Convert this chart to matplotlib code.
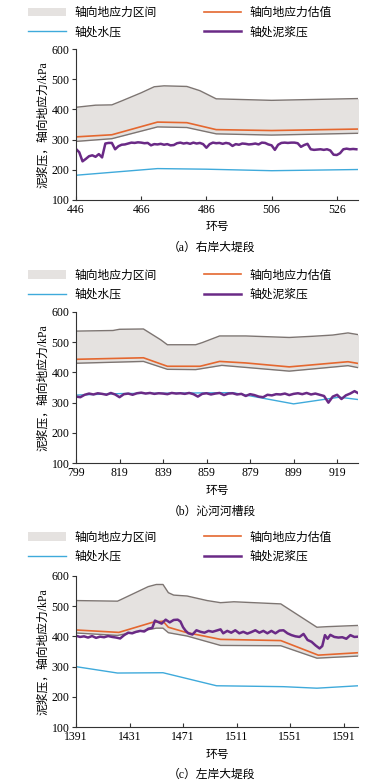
import numpy as np
import matplotlib
matplotlib.use("Agg")
import matplotlib.pyplot as plt

plt.rcParams['font.family'] = ['Liberation Serif', 'Noto Sans CJK SC', 'DejaVu Sans']
CJK = ['Noto Sans CJK SC', 'DejaVu Sans']

# ---- panel (a) right bank levee
a_upper_x = [446, 452, 457, 460, 466, 470, 473, 480, 484, 489, 506, 533]
a_upper_y = [407, 414, 415, 428, 455, 475, 478, 476, 462, 435, 430, 436]
a_lower_x = [446, 457, 471, 480, 489, 506, 533]
a_lower_y = [294, 303, 342, 340, 319, 315, 321]
a_est_x = [446, 457, 471, 480, 489, 506, 533]
a_est_y = [309, 316, 358, 356, 333, 330, 335]
a_water_x = [446, 471, 486, 506, 533]
a_water_y = [182, 204, 202, 197, 201]
a_slurry_x = list(range(446, 533))
a_slurry_y = [269, 258, 228, 236, 245, 248, 243, 252, 241, 287,
              289, 289, 268, 278, 283, 284, 287, 290, 289, 291,
              290, 288, 289, 281, 285, 284, 286, 283, 285, 281,
              282, 288, 290, 287, 289, 286, 290, 287, 289, 285,
              273, 285, 290, 288, 289, 286, 289, 287, 279, 285,
              283, 287, 286, 284, 285, 287, 284, 290, 289, 284,
              281, 266, 283, 289, 290, 289, 290, 290, 288, 276,
              282, 286, 268, 266, 267, 268, 266, 268, 264, 250,
              249, 255, 268, 270, 268, 269, 268]
a_ticks = [446, 466, 486, 506, 526]

# ---- panel (b) Qin river channel
b_upper_x = [799, 816, 819, 830, 838, 841, 854, 857, 865, 877, 897, 908, 917, 924, 929]
b_upper_y = [536, 538, 542, 543, 507, 491, 491, 498, 520, 520, 515, 519, 523, 530, 524]
b_lower_x = [799, 830, 841, 854, 866, 897, 924, 929]
b_lower_y = [430, 436, 410, 409, 423, 404, 422, 415]
b_est_x = [799, 830, 841, 856, 865, 877, 897, 924, 929]
b_est_y = [443, 448, 420, 420, 436, 431, 418, 435, 429]
b_water_x = [799, 820, 871, 899, 920, 929]
b_water_y = [325, 330, 333, 296, 318, 310]
b_slurry_x = list(range(799, 931, 2))
b_slurry_y = [320, 318, 326, 330, 327, 331, 329, 326, 332, 327,
              318, 328, 330, 326, 331, 333, 330, 332, 329, 331,
              330, 328, 332, 330, 331, 329, 332, 328, 320, 329,
              331, 327, 330, 332, 325, 330, 331, 327, 329, 322,
              328, 325, 320, 318, 326, 324, 328, 327, 330, 325,
              329, 331, 328, 332, 327, 330, 326, 322, 300, 320,
              326, 312, 324, 330, 338, 330]
b_ticks = [799, 819, 839, 859, 879, 899, 919]

# ---- panel (c) left bank levee
c_upper_x = [1391, 1422, 1424, 1445, 1451, 1456, 1460, 1464, 1474, 1489, 1499, 1509, 1544, 1571, 1579, 1602]
c_upper_y = [518, 516, 520, 564, 571, 571, 544, 536, 533, 518, 511, 514, 507, 430, 432, 436]
c_lower_x = [1391, 1422, 1451, 1456, 1460, 1474, 1499, 1544, 1571, 1602]
c_lower_y = [411, 403, 427, 427, 412, 401, 370, 369, 328, 335]
c_est_x = [1391, 1423, 1448, 1456, 1460, 1474, 1499, 1544, 1572, 1602]
c_est_y = [421, 413, 446, 450, 430, 412, 390, 386, 338, 346]
c_water_x = [1391, 1422, 1456, 1496, 1546, 1571, 1602]
c_water_y = [300, 279, 280, 237, 234, 229, 237]
c_slurry_x = [1391, 1394, 1397, 1400, 1403, 1406, 1409, 1412, 1415, 1418,
              1421, 1424, 1427, 1430, 1433, 1436, 1439, 1442, 1445, 1448,
              1450, 1452, 1455, 1458, 1461, 1464, 1467, 1469, 1471, 1473,
              1475, 1478, 1481, 1484, 1487, 1490, 1493, 1496, 1499, 1501,
              1504, 1507, 1510, 1513, 1516, 1519, 1522, 1525, 1528, 1531,
              1534, 1537, 1540, 1543, 1546, 1549, 1552, 1555, 1558, 1561,
              1564, 1567, 1570, 1573, 1575, 1577, 1579, 1581, 1584, 1587,
              1590, 1593, 1596, 1599, 1602]
c_slurry_y = [402, 398, 400, 396, 401, 395, 399, 397, 401, 398,
              396, 393, 404, 412, 410, 415, 418, 416, 425, 428,
              452, 448, 442, 455, 446, 454, 455, 449, 430, 418,
              410, 406, 420, 415, 412, 418, 415, 419, 423, 410,
              418, 412, 420, 410, 415, 409, 414, 420, 412, 418,
              410, 418, 410, 419, 420, 410, 404, 400, 398, 408,
              388, 382, 370, 360, 368, 404, 392, 405, 398, 396,
              397, 392, 404, 398, 399]
c_ticks = [1391, 1431, 1471, 1511, 1551, 1591]

FILL = '#e5e2e0'
BOUND = '#7d7572'
ORANGE = '#e4672f'
BLUE = '#3faadb'
PURPLE = '#6a2a86'

W, H = 384, 783
fig = plt.figure(figsize=(W / 100, H / 100), dpi=100)


def panel(top, bottom, xlim, ticks, up, lo, est, water, slurry, caption, leg_top):
    ax = fig.add_axes([76 / W, 1 - bottom / H, (358 - 76) / W, (bottom - top) / H])
    grid = np.union1d(up[0], lo[0])
    ax.fill_between(grid, np.interp(grid, *lo), np.interp(grid, *up),
                    color=FILL, lw=0, label='轴向地应力区间')
    ax.plot(*up, color=BOUND, lw=1.0)
    ax.plot(*lo, color=BOUND, lw=1.0)
    ax.plot(*est, color=ORANGE, lw=1.2, label='轴向地应力估值')
    ax.plot(*water, color=BLUE, lw=1.0, label='轴处水压')
    ax.plot(*slurry, color=PURPLE, lw=1.8, label='轴处泥浆压')
    ax.set_xlim(*xlim)
    ax.set_ylim(100, 600)
    ax.set_xticks(ticks)
    ax.set_yticks([100, 200, 300, 400, 500, 600])
    for s in ['top', 'right']:
        ax.spines[s].set_visible(False)
    for s in ['left', 'bottom']:
        ax.spines[s].set_color('#333333')
        ax.spines[s].set_linewidth(0.8)
    ax.tick_params(axis='y', direction='out', length=3, width=0.8, color='#333333',
                   labelsize=8.5, pad=1.5)
    ax.tick_params(axis='x', direction='in', length=3, width=0.8, color='#333333',
                   labelsize=8.5, pad=3)
    ax.set_xlabel('环号', family=CJK, fontsize=8.5, labelpad=3)
    ax.set_ylabel('泥浆压，轴向地应力/kPa', fontsize=8.5, labelpad=2)
    h, l = ax.get_legend_handles_labels()
    order = [0, 2, 1, 3]
    h = [h[i] for i in order]
    l = [l[i] for i in order]
    ax.legend(h, l, ncol=2, loc='upper left',
              bbox_to_anchor=(28 / W, 1 - leg_top / H), bbox_transform=fig.transFigure,
              frameon=False, prop={'family': CJK, 'size': 8.5},
              handlelength=3.2, handletextpad=0.7, columnspacing=4.0,
              labelspacing=0.55, borderpad=0, borderaxespad=0)
    fig.text(212 / W, 1 - caption / H, caption_text[caption], ha='center', va='center',
             fontsize=8.5)
    return ax


caption_text = {248: '（a）右岸大堤段', 512: '（b）沁河河槽段', 775: '（c）左岸大堤段'}

panel(49, 200, (446, 532.5), a_ticks,
      (a_upper_x, a_upper_y), (a_lower_x, a_lower_y), (a_est_x, a_est_y),
      (a_water_x, a_water_y), (a_slurry_x, a_slurry_y), 248, 6)
panel(311.7, 463.3, (799, 928.6), b_ticks,
      (b_upper_x, b_upper_y), (b_lower_x, b_lower_y), (b_est_x, b_est_y),
      (b_water_x, b_water_y), (b_slurry_x, b_slurry_y), 512, 268.5)
panel(575.7, 727.3, (1391, 1601.7), c_ticks,
      (c_upper_x, c_upper_y), (c_lower_x, c_lower_y), (c_est_x, c_est_y),
      (c_water_x, c_water_y), (c_slurry_x, c_slurry_y), 775, 530.5)

fig.savefig('out.png', dpi=100)
